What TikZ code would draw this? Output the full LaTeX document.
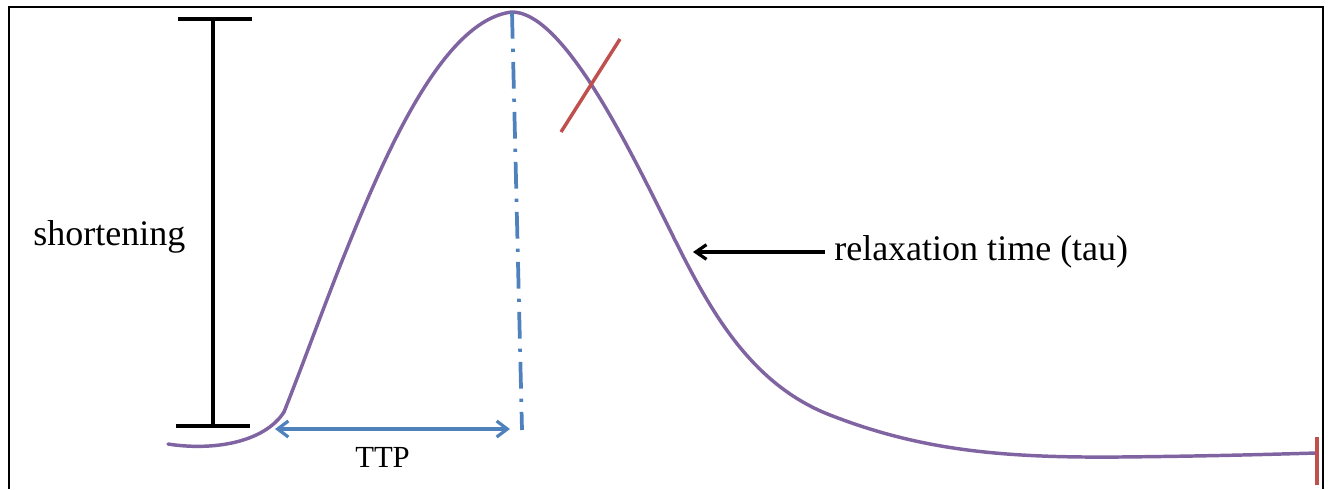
\documentclass[tikz,border=0pt]{standalone}
\usepackage{fontspec}
\setmainfont{Liberation Serif}
\usetikzlibrary{arrows.meta}
\definecolor{curvepurple}{RGB}{128,100,162}
\definecolor{ttpblue}{RGB}{79,129,189}
\definecolor{markred}{RGB}{192,80,77}
\tikzset{
  frameline/.style={line width=1.5pt, black},
  barline/.style={line width=2.8pt, black},
  signal/.style={line width=2.6pt, curvepurple, line join=round, line cap=round},
  ttparrow/.style={line width=2.6pt, ttpblue, {Straight Barb[length=8pt,width=12pt,line width=2.4pt]}-{Straight Barb[length=8pt,width=12pt,line width=2.4pt]}},
  peakline/.style={line width=2.8pt, ttpblue, dash pattern=on 20pt off 7.5pt on 2.5pt off 7.5pt},
  markline/.style={line width=2.6pt, markred},
  pointer/.style={line width=2.6pt, black, {Straight Barb[length=8pt,width=11pt,line width=2.4pt]}-},
  label/.style={inner sep=0pt, anchor=base west, font=\fontsize{27}{32}\selectfont},
  smalllabel/.style={inner sep=0pt, anchor=base west, font=\fontsize{23}{28}\selectfont}
}
\begin{document}
\begin{tikzpicture}[x=0.75pt, y=-0.75pt]
\useasboundingbox (0,0) rectangle (1330,489);
% frame (open at bottom)
\coordinate (fbl) at (9,489);
\coordinate (ftl) at (9,7);
\coordinate (ftr) at (1323,7);
\coordinate (fbr) at (1323,489);
\draw[frameline] (fbl) -- (ftl) -- (ftr) -- (fbr);

% shortening bar
\coordinate (btop) at (213,19);
\coordinate (bbot) at (213,426);
\coordinate (btl) at (178,19);
\coordinate (btr) at (252,19);
\coordinate (bbl) at (176,426);
\coordinate (bbr) at (250,426);
\draw[barline] (btop) -- (bbot);
\draw[barline] (btl) -- (btr);
\draw[barline] (bbl) -- (bbr);
\node[label] (short) at (33,245) {shortening};

% signal curve
\coordinate (cstart) at (168,444);
\coordinate (ckink) at (284,412);
\coordinate (peak) at (512,12);
\coordinate (cend) at (1317,453);
\draw[signal] (cstart) .. controls (212,451) and (264,443) .. (ckink);
\draw[signal] (ckink)
  .. controls (300,372) and (318,322) .. (340,266)
  .. controls (380,166) and (440,20) .. (peak)
  .. controls (560,12) and (620,130) .. (660,210)
  .. controls (700,290) and (740,380) .. (830,415)
  .. controls (920,450) and (1000,458) .. (1120,457)
  .. controls (1220,456) and (1280,454) .. (cend);

% peak dash-dot line
\coordinate (pbot) at (522,430);
\draw[peakline] (peak) -- (pbot);

% TTP arrow
\coordinate (tl) at (275,429);
\coordinate (tr) at (510,429);
\draw[ttparrow] (tl) -- (tr);
\node[smalllabel] (ttp) at (355,467) {TTP};

% red marks
\coordinate (sa) at (561,132);
\coordinate (sb) at (620,39);
\draw[markline] (sa) -- (sb);
\coordinate (ea) at (1317,437);
\coordinate (eb) at (1317,485);
\draw[markline] (ea) -- (eb);

% relaxation label and pointer
\node[label] (relax) at (834,260) {relaxation time (tau)};
\coordinate (ptip) at (693,252);
\coordinate (ptail) at (825,252);
\draw[pointer] (ptip) -- (ptail);
\end{tikzpicture}
\end{document}
